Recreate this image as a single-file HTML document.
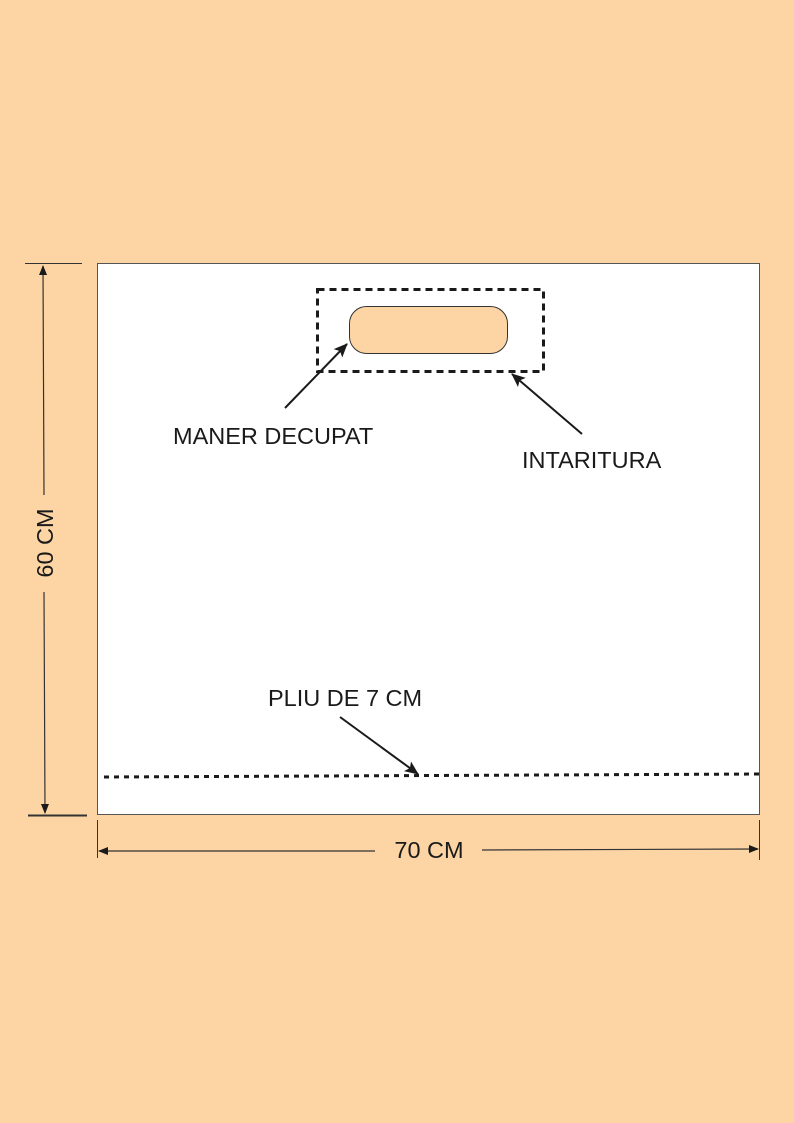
<!DOCTYPE html>
<html><head><meta charset="utf-8"><style>
html,body{margin:0;padding:0;background:#FDD5A4;}
svg{display:block}
text{font-family:"Liberation Sans",Arial,sans-serif;fill:#1a1a1a;font-size:23.5px}
</style></head><body>
<svg width="794" height="1123" viewBox="0 0 794 1123" xmlns="http://www.w3.org/2000/svg">
<defs>
<marker id="a" markerWidth="10" markerHeight="10" refX="9" refY="5" orient="auto" markerUnits="userSpaceOnUse" viewBox="0 0 10 10">
<path d="M0,1 L10,5 L0,9 Z" fill="#1a1a1a"/>
</marker>
<marker id="b" markerWidth="14" markerHeight="14" refX="13" refY="7" orient="auto" markerUnits="userSpaceOnUse" viewBox="0 0 14 14">
<path d="M0,1 L14,7 L0,13 L3,7 Z" fill="#1a1a1a"/>
</marker>
</defs>
<rect x="97.5" y="263.5" width="662" height="551" fill="#fff" stroke="#555" stroke-width="1"/>
<rect x="349.5" y="306.5" width="158" height="47" rx="17" fill="#FDD5A4" stroke="#333" stroke-width="1"/>
<rect x="317.5" y="289.5" width="226" height="82" fill="none" stroke="#1a1a1a" stroke-width="3" stroke-dasharray="7,5"/>
<line x1="285" y1="408" x2="347" y2="344" stroke="#1a1a1a" stroke-width="2" marker-end="url(#b)"/>
<line x1="582" y1="434" x2="512" y2="374" stroke="#1a1a1a" stroke-width="2" marker-end="url(#b)"/>
<line x1="340" y1="717" x2="418" y2="774" stroke="#1a1a1a" stroke-width="2" marker-end="url(#b)"/>
<line x1="104" y1="777" x2="760" y2="774" stroke="#1a1a1a" stroke-width="3" stroke-dasharray="5,5"/>
<text x="173" y="444">MANER DECUPAT</text>
<text x="522" y="468">INTARITURA</text>
<text x="268" y="706">PLIU DE 7 CM</text>
<line x1="25" y1="263.5" x2="82" y2="263.5" stroke="#333" stroke-width="1"/>
<line x1="28" y1="815.5" x2="87" y2="815.5" stroke="#333" stroke-width="2"/>
<line x1="44" y1="495" x2="43" y2="266" stroke="#333" stroke-width="1.2" marker-end="url(#a)"/>
<line x1="44" y1="592" x2="45" y2="813" stroke="#333" stroke-width="1.2" marker-end="url(#a)"/>
<text x="0" y="0" transform="translate(53,543) rotate(-90)" text-anchor="middle">60 CM</text>
<line x1="97.5" y1="820" x2="97.5" y2="858" stroke="#333" stroke-width="1"/>
<line x1="759.5" y1="820" x2="759.5" y2="860" stroke="#333" stroke-width="1"/>
<line x1="375" y1="851" x2="99" y2="851" stroke="#333" stroke-width="1.2" marker-end="url(#a)"/>
<line x1="482" y1="850" x2="758" y2="849" stroke="#333" stroke-width="1.2" marker-end="url(#a)"/>
<text x="429" y="858" text-anchor="middle">70 CM</text>
</svg>
</body></html>
